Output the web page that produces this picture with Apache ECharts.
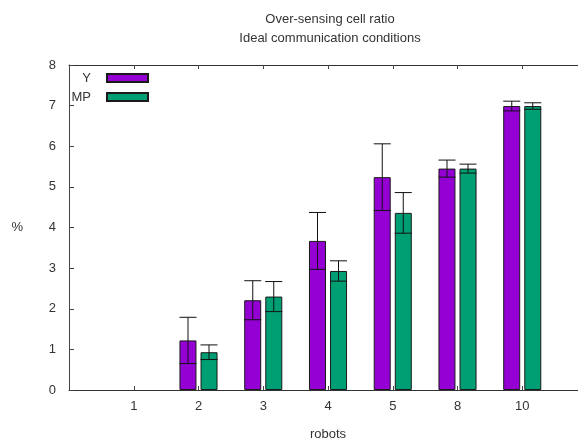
<!DOCTYPE html>
<html>
<head>
<meta charset="utf-8">
<script src="https://cdn.jsdelivr.net/npm/echarts@6/dist/echarts.min.js"></script>
<style>
  html, body { margin: 0; padding: 0; background: #fff; }
  #chart { width: 578px; height: 441px; }
</style>
</head>
<body>
<div id="chart"></div>
<script>
// 横轴: 两端留空 (gnuplot xrange -1..7)
const robots = ['', '1', '2', '3', '4', '5', '8', '10', ''];
// 均值
const yMean  = [null, 0, 1.22, 2.21, 3.67, 5.24, 5.45, 6.99, null];
const mpMean = [null, 0, 0.93, 2.30, 2.93, 4.36, 5.45, 6.99, null];
// 误差
const yErr  = [null, 0, 0.57, 0.48, 0.70, 0.82, 0.21, 0.12, null];
const mpErr = [null, 0, 0.18, 0.37, 0.25, 0.50, 0.11, 0.08, null];

const BAR_W = 17;
const OFF = 10.5;
const FONT = 'Liberation Sans, Arial, sans-serif';

// 0 值不画柱
function barData(mean) {
  return mean.map(function (m) { return m ? m : '-'; });
}

function errData(mean, err) {
  const out = [];
  mean.forEach(function (m, i) {
    if (m == null || !err[i]) return;
    out.push([i, m - err[i], m + err[i]]);
  });
  return out;
}

function errRender(off) {
  return function (params, api) {
    const hi = api.coord([api.value(0), api.value(2)]);
    const lo = api.coord([api.value(0), api.value(1)]);
    const x = hi[0] + off;
    const half = BAR_W / 2;
    const style = { stroke: '#111', lineWidth: 1 };
    return {
      type: 'group',
      children: [
        { type: 'line', shape: { x1: x, y1: hi[1], x2: x, y2: lo[1] }, style: style },
        { type: 'line', shape: { x1: x - half, y1: hi[1], x2: x + half, y2: hi[1] }, style: style },
        { type: 'line', shape: { x1: x - half, y1: lo[1], x2: x + half, y2: lo[1] }, style: style }
      ]
    };
  };
}

const chart = echarts.init(document.getElementById('chart'), null, { renderer: 'canvas' });

chart.setOption({
  animation: false,
  textStyle: { fontFamily: FONT },
  title: {
    text: 'Over-sensing cell ratio\nIdeal communication conditions',
    left: 325,
    textAlign: 'center',
    top: 5,
    textStyle: { fontSize: 13, fontWeight: 'normal', color: '#333', lineHeight: 19, fontFamily: FONT }
  },
  legend: {
    orient: 'vertical',
    left: 66,
    top: 66,
    icon: 'rect',
    itemWidth: 41,
    itemHeight: 8,
    itemGap: 5,
    align: 'right',
    data: ['Y', 'MP'],
    formatter: function (name) { return '{a|' + name + '}{b|}'; },
    textStyle: {
      color: '#333',
      fontSize: 13,
      lineHeight: 14,
      rich: {
        a: { width: 20, align: 'right', fontSize: 13, color: '#333', fontFamily: FONT },
        b: { width: 11 }
      }
    }
  },
  grid: { left: 69, top: 65, width: 518, height: 325, outerBoundsMode: 'none' },
  xAxis: [
    {
      type: 'category',
      data: robots,
      boundaryGap: false,
      name: 'robots',
      nameLocation: 'middle',
      nameGap: 38,
      nameTextStyle: { color: '#333', fontSize: 13 },
      axisLine: { lineStyle: { color: '#333', width: 1 } },
      axisTick: { inside: true, length: 4, lineStyle: { color: '#444' } },
      axisLabel: { color: '#333', fontSize: 13, margin: 10 },
      splitLine: { show: false }
    },
    {
      type: 'category',
      data: robots,
      boundaryGap: false,
      position: 'top',
      axisLine: { lineStyle: { color: '#333', width: 1 } },
      axisTick: { inside: true, length: 4, lineStyle: { color: '#444' } },
      axisLabel: { show: false },
      splitLine: { show: false }
    }
  ],
  yAxis: {
    type: 'value',
    min: 0,
    max: 8,
    interval: 1,
    name: '%',
    nameLocation: 'middle',
    nameRotate: 0,
    nameGap: 46,
    nameTextStyle: { color: '#333', fontSize: 13 },
    axisLine: { show: true, lineStyle: { color: '#444', width: 1 } },
    axisTick: { show: true, inside: true, length: 5, lineStyle: { color: '#444' } },
    axisLabel: { color: '#333', fontSize: 13, margin: 13 },
    splitLine: { show: false }
  },
  series: [
    {
      name: 'Y',
      type: 'bar',
      data: barData(yMean),
      barWidth: BAR_W,
      barGap: '24%',
      itemStyle: { color: '#9400D3', borderColor: '#1a1a1a', borderWidth: 1 }
    },
    {
      name: 'MP',
      type: 'bar',
      data: barData(mpMean),
      barWidth: BAR_W,
      barGap: '24%',
      itemStyle: { color: '#009E73', borderColor: '#1a1a1a', borderWidth: 1 }
    },
    {
      name: 'Y err',
      type: 'custom',
      data: errData(yMean, yErr),
      renderItem: errRender(-OFF),
      z: 5
    },
    {
      name: 'MP err',
      type: 'custom',
      data: errData(mpMean, mpErr),
      renderItem: errRender(OFF),
      z: 5
    }
  ]
});
</script>
</body>
</html>
